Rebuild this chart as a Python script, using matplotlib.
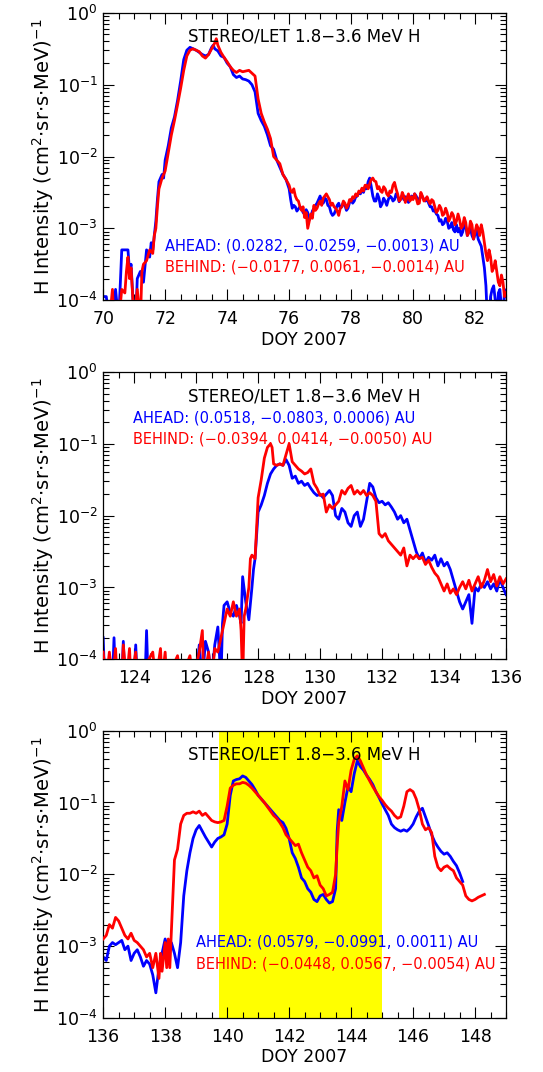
import matplotlib.pyplot as plt
import numpy as np
from matplotlib.ticker import LogLocator, MultipleLocator, NullFormatter

# ---- data: log10 of H intensity ----
# panel 1, DOY 70-83 (rise and peak)
p1_day_a = [70.0, 70.1, 70.2, 70.3, 70.4, 70.5, 70.6, 70.7, 70.8, 70.85, 70.9, 71.0, 71.05, 71.1, 71.2, 71.3,
            71.4, 71.5, 71.55, 71.6, 71.65, 71.7, 71.75, 71.8, 71.85, 71.9, 71.95, 72.0, 72.1, 72.2, 72.3, 72.4,
            72.5, 72.6, 72.7, 72.8, 72.9, 73.0, 73.1, 73.2, 73.3, 73.4, 73.5, 73.55, 73.6, 73.7, 73.8, 73.9,
            74.0, 74.1, 74.2, 74.3, 74.4, 74.5, 74.6, 74.7, 74.8, 74.9, 75.0, 75.1, 75.2, 75.3, 75.4, 75.5,
            75.6, 75.7, 75.8, 75.9]
p1_log_a = [-3.95, -3.95, -4.3, -4.3, -3.85, -4.3, -3.3, -3.3, -3.3, -3.6, -3.5, -4.3, -4.3, -3.7, -3.6, -3.75,
            -3.3, -3.4, -3.2, -3.3, -3.1, -2.9, -2.6, -2.35, -2.3, -2.25, -2.3, -2.05, -1.85, -1.6, -1.45, -1.22,
            -0.95, -0.65, -0.52, -0.48, -0.5, -0.52, -0.55, -0.58, -0.6, -0.58, -0.48, -0.45, -0.5, -0.53, -0.6, -0.62,
            -0.7, -0.75, -0.86, -0.9, -0.88, -0.92, -0.93, -0.95, -1.0, -1.1, -1.4, -1.5, -1.58, -1.7, -1.85, -1.9,
            -2.05, -2.15, -2.25, -2.32]
p1_day_b = [70.0, 70.2, 70.3, 70.35, 70.5, 70.6, 70.7, 70.75, 70.8, 70.85, 70.9, 71.0, 71.1, 71.2, 71.25, 71.3,
            71.4, 71.5, 71.6, 71.65, 71.7, 71.75, 71.8, 71.9, 72.0, 72.1, 72.2, 72.3, 72.4, 72.5, 72.6, 72.7,
            72.8, 72.9, 73.0, 73.1, 73.2, 73.3, 73.4, 73.5, 73.6, 73.65, 73.7, 73.8, 73.9, 74.0, 74.1, 74.2,
            74.3, 74.4, 74.5, 74.6, 74.7, 74.8, 74.9, 75.0, 75.1, 75.2, 75.3, 75.4, 75.5, 75.6, 75.7, 75.8,
            75.9]
p1_log_b = [-4.3, -4.3, -3.85, -4.3, -4.3, -3.85, -3.9, -3.6, -3.4, -3.7, -3.55, -4.3, -3.85, -4.3, -3.6, -3.5,
            -3.45, -3.3, -3.35, -3.1, -3.0, -2.7, -2.45, -2.3, -2.2, -1.95, -1.7, -1.5, -1.28, -1.05, -0.8, -0.6,
            -0.52, -0.5, -0.52, -0.54, -0.6, -0.63, -0.58, -0.5, -0.42, -0.36, -0.45, -0.55, -0.62, -0.68, -0.75, -0.8,
            -0.83, -0.8, -0.82, -0.81, -0.8, -0.84, -0.88, -1.2, -1.4, -1.52, -1.62, -1.75, -2.0, -2.05, -2.1, -2.25,
            -2.32]
# panel 1 noisy tail, DOY 76.00-83.00 in 0.05 day steps (141 samples)
p1_tail_day = [round(76.0 + 0.05 * k, 2) for k in range(141)]
p1_tail_a = [-2.45, -2.6, -2.72, -2.68, -2.7, -2.76, -2.73, -2.7, -2.72, -2.78, -2.8, -2.74, -2.78, -2.88, -2.85,
             -2.76, -2.72, -2.68, -2.65, -2.6, -2.55, -2.62, -2.65, -2.58, -2.6, -2.68, -2.7, -2.78, -2.82, -2.8,
             -2.75, -2.68, -2.65, -2.72, -2.7, -2.64, -2.68, -2.75, -2.72, -2.64, -2.6, -2.65, -2.62, -2.56, -2.55,
             -2.5, -2.52, -2.46, -2.5, -2.42, -2.45, -2.35, -2.3, -2.42, -2.55, -2.62, -2.62, -2.52, -2.58, -2.7,
             -2.66, -2.58, -2.62, -2.68, -2.6, -2.55, -2.57, -2.62, -2.6, -2.52, -2.55, -2.63, -2.58, -2.54, -2.6,
             -2.56, -2.57, -2.64, -2.6, -2.55, -2.58, -2.52, -2.55, -2.6, -2.6, -2.54, -2.56, -2.6, -2.62, -2.58,
             -2.65, -2.7, -2.7, -2.76, -2.75, -2.8, -2.82, -2.9, -2.88, -2.95, -2.93, -2.86, -2.9, -3.0, -2.98,
             -2.92, -3.02, -3.05, -2.95, -3.05, -3.0, -3.1, -3.05, -2.95, -2.98, -3.1, -3.05, -3.0, -3.1, -3.15,
             -3.08, -3.02, -3.15, -3.2, -3.25, -3.4, -3.55, -3.8, -4.3, -4.3, -3.95, -3.85, -3.8, -4.0, -4.3,
             -3.9, -3.85, -4.1, -4.3, -3.85, -3.95]
p1_tail_b = [-2.4, -2.48, -2.5, -2.45, -2.55, -2.6, -2.62, -2.7, -2.75, -2.7, -2.85, -2.78, -3.0, -2.9, -2.8,
             -2.86, -2.68, -2.75, -2.72, -2.66, -2.62, -2.68, -2.58, -2.55, -2.52, -2.56, -2.6, -2.68, -2.65, -2.7,
             -2.72, -2.76, -2.82, -2.72, -2.7, -2.62, -2.65, -2.72, -2.68, -2.6, -2.62, -2.56, -2.58, -2.52, -2.55,
             -2.48, -2.5, -2.44, -2.48, -2.4, -2.4, -2.45, -2.38, -2.32, -2.3, -2.34, -2.35, -2.45, -2.42, -2.48,
             -2.5, -2.42, -2.45, -2.52, -2.55, -2.48, -2.5, -2.4, -2.36, -2.45, -2.52, -2.62, -2.6, -2.5, -2.55,
             -2.64, -2.58, -2.52, -2.62, -2.56, -2.6, -2.52, -2.58, -2.66, -2.65, -2.5, -2.55, -2.62, -2.6, -2.56,
             -2.62, -2.66, -2.6, -2.62, -2.7, -2.78, -2.75, -2.68, -2.72, -2.82, -2.8, -2.72, -2.78, -2.9, -2.85,
             -2.78, -2.82, -2.95, -2.9, -2.8, -2.88, -3.0, -2.97, -2.85, -2.92, -3.1, -3.05, -2.9, -2.95, -3.15,
             -3.05, -2.95, -3.0, -3.1, -2.95, -3.05, -3.2, -3.35, -3.45, -3.3, -3.4, -3.6, -3.55, -3.45, -3.6,
             -3.75, -3.8, -3.65, -3.75, -3.95, -3.9]

# panel 2, DOY 123-136
p2_day_a = [123.0, 123.05, 123.3, 123.35, 123.4, 123.6, 123.65, 123.7, 124.0, 124.05, 124.1, 124.35, 124.4, 124.45,
            126.0, 126.1, 126.2, 126.3, 126.4, 126.5, 126.6, 126.7, 126.8, 126.85, 126.9, 127.0, 127.1, 127.2,
            127.3, 127.4, 127.45, 127.5, 127.6, 127.7, 127.8, 127.85, 127.9, 128.0, 128.1, 128.2, 128.3, 128.4,
            128.5, 128.6, 128.7, 128.8, 128.9, 129.0, 129.1, 129.2, 129.3, 129.4, 129.5, 129.6, 129.7, 129.8,
            129.9, 130.0, 130.1, 130.2, 130.3, 130.4, 130.5, 130.6, 130.7, 130.8, 130.9, 131.0, 131.1, 131.2,
            131.3, 131.4, 131.5, 131.6, 131.7, 131.8, 131.9, 132.0, 132.1, 132.2, 132.3, 132.4, 132.5, 132.6,
            132.7, 132.8, 132.9, 133.0, 133.1, 133.2, 133.3, 133.4, 133.5, 133.6, 133.7, 133.8, 133.9, 134.0,
            134.1, 134.2, 134.3, 134.4, 134.5, 134.6, 134.7, 134.8, 134.9, 135.0, 135.1, 135.2, 135.3, 135.4,
            135.5, 135.6, 135.7, 135.8, 135.9, 136.0]
p2_log_a = [-3.7, -4.3, -4.3, -3.7, -4.3, -4.3, -3.75, -4.3, -4.3, -3.8, -4.3, -4.3, -3.6, -4.3,
            -4.3, -3.8, -4.3, -3.75, -3.9, -4.3, -3.8, -3.55, -4.3, -3.5, -3.25, -3.2, -3.35, -3.4,
            -3.25, -3.4, -3.5, -2.85, -3.2, -3.45, -3.0, -2.75, -2.6, -1.95, -1.85, -1.72, -1.55, -1.42,
            -1.35, -1.3, -1.28, -1.3, -1.22, -1.3, -1.48, -1.45, -1.55, -1.52, -1.58, -1.55, -1.62, -1.68,
            -1.72, -1.7, -1.75, -1.7, -1.65, -1.72, -2.0, -2.05, -1.9, -1.95, -2.1, -2.15, -2.0, -1.95,
            -2.15, -2.05, -1.8, -1.55, -1.6, -1.75, -1.82, -1.8, -1.85, -1.82, -1.88, -1.95, -2.05, -2.0,
            -2.1, -2.05, -2.2, -2.35, -2.5, -2.6, -2.52, -2.65, -2.58, -2.62, -2.55, -2.7, -2.6, -2.7,
            -2.65, -2.75, -2.9, -3.05, -3.2, -3.3, -3.2, -3.1, -3.5, -3.0, -3.05, -2.95, -3.0, -2.92,
            -3.02, -2.95, -3.05, -2.88, -3.0, -3.1]
p2_day_b = [123.0, 123.1, 123.2, 123.3, 123.4, 123.45, 123.6, 123.65, 123.75, 123.85, 123.9, 124.05, 124.1, 124.6,
            124.7, 124.85, 124.9, 125.0, 125.05, 125.4, 125.5, 125.8, 125.9, 126.1, 126.2, 126.25, 126.4, 126.5,
            126.6, 126.7, 126.8, 126.9, 127.0, 127.1, 127.2, 127.3, 127.4, 127.45, 127.5, 127.55, 127.6, 127.7,
            127.75, 127.8, 127.9, 128.0, 128.1, 128.2, 128.3, 128.4, 128.45, 128.5, 128.6, 128.7, 128.8, 128.9,
            129.0, 129.1, 129.2, 129.3, 129.4, 129.5, 129.6, 129.7, 129.8, 129.9, 130.0, 130.1, 130.2, 130.3,
            130.4, 130.5, 130.6, 130.7, 130.8, 130.9, 131.0, 131.1, 131.2, 131.3, 131.4, 131.5, 131.6, 131.7,
            131.8, 131.9, 132.0, 132.1, 132.2, 132.3, 132.4, 132.5, 132.6, 132.7, 132.8, 132.9, 133.0, 133.1,
            133.2, 133.3, 133.4, 133.5, 133.6, 133.7, 133.8, 133.9, 134.0, 134.1, 134.2, 134.3, 134.4, 134.5,
            134.6, 134.7, 134.8, 134.9, 135.0, 135.1, 135.2, 135.3, 135.4, 135.5, 135.6, 135.7, 135.8, 135.9,
            136.0]
p2_log_b = [-3.9, -4.3, -3.9, -4.3, -3.85, -4.3, -4.3, -3.8, -4.3, -3.85, -4.3, -3.9, -4.3, -3.9,
            -4.3, -3.85, -4.3, -3.9, -4.3, -3.95, -4.3, -3.95, -4.3, -3.9, -3.6, -4.3, -3.9, -4.3,
            -3.85, -3.9, -3.7, -3.5, -3.3, -3.4, -3.2, -3.4, -3.3, -3.6, -4.3, -3.4, -3.3, -3.0,
            -2.6, -2.55, -2.6, -1.75, -1.5, -1.2, -1.05, -1.0, -1.05, -1.28, -1.3, -1.28, -1.3, -1.15,
            -1.0, -1.25, -1.3, -1.35, -1.38, -1.42, -1.4, -1.35, -1.55, -1.62, -1.72, -1.7, -1.95, -1.85,
            -1.9, -1.85, -1.8, -1.65, -1.7, -1.62, -1.58, -1.7, -1.65, -1.7, -1.65, -1.72, -1.68, -1.72,
            -1.8, -2.25, -2.3, -2.25, -2.35, -2.4, -2.45, -2.5, -2.55, -2.45, -2.7, -2.55, -2.6, -2.55,
            -2.6, -2.58, -2.68, -2.62, -2.72, -2.8, -2.85, -2.95, -3.05, -2.95, -3.08, -3.02, -3.1, -3.0,
            -2.92, -3.02, -2.9, -3.05, -2.95, -2.85, -3.0, -2.9, -2.75, -2.92, -2.82, -2.98, -2.85, -2.95,
            -2.88]

# panel 3, DOY 136-149
p3_day_a = [136.0, 136.1, 136.2, 136.3, 136.4, 136.5, 136.6, 136.7, 136.8, 136.9, 137.0, 137.1, 137.2, 137.3,
            137.4, 137.5, 137.6, 137.7, 137.8, 137.9, 138.0, 138.1, 138.2, 138.3, 138.4, 138.5, 138.6, 138.7,
            138.8, 138.9, 139.0, 139.1, 139.2, 139.3, 139.4, 139.5, 139.6, 139.7, 139.8, 139.9, 140.0, 140.1,
            140.2, 140.3, 140.4, 140.5, 140.6, 140.7, 140.8, 140.9, 141.0, 141.1, 141.2, 141.3, 141.4, 141.5,
            141.6, 141.7, 141.8, 141.9, 142.0, 142.1, 142.2, 142.3, 142.4, 142.5, 142.6, 142.7, 142.8, 142.9,
            143.0, 143.1, 143.2, 143.3, 143.4, 143.5, 143.55, 143.6, 143.7, 143.8, 143.9, 144.0, 144.1, 144.2,
            144.3, 144.4, 144.5, 144.6, 144.7, 144.8, 144.9, 145.0, 145.1, 145.2, 145.3, 145.4, 145.5, 145.6,
            145.7, 145.8, 145.9, 146.0, 146.1, 146.2, 146.3, 146.4, 146.5, 146.6, 146.7, 146.8, 146.9, 147.0,
            147.1, 147.2, 147.3, 147.4, 147.5, 147.6]
p3_log_a = [-3.15, -3.2, -3.0, -2.95, -2.98, -2.95, -2.92, -3.05, -3.0, -3.2, -3.1, -3.05, -3.15, -3.28,
            -3.2, -3.25, -3.4, -3.65, -3.3, -3.1, -2.9, -3.05, -2.95, -3.1, -3.3, -2.95, -2.3, -1.95,
            -1.7, -1.5, -1.38, -1.32, -1.4, -1.48, -1.55, -1.62, -1.55, -1.5, -1.48, -1.45, -1.3, -0.9,
            -0.7, -0.68, -0.67, -0.63, -0.65, -0.7, -0.75, -0.82, -0.9, -0.95, -1.0, -1.05, -1.1, -1.15,
            -1.2, -1.25, -1.28, -1.36, -1.5, -1.7, -1.78, -1.9, -2.05, -2.1, -2.2, -2.25, -2.35, -2.38,
            -2.3, -2.28, -2.35, -2.4, -2.38, -2.2, -1.4, -1.1, -1.25, -1.0, -0.78, -0.85, -0.6, -0.42,
            -0.5, -0.55, -0.62, -0.68, -0.75, -0.85, -0.93, -1.02, -1.1, -1.18, -1.3, -1.35, -1.38, -1.4,
            -1.38, -1.4, -1.36, -1.3, -1.2, -1.12, -1.08, -1.2, -1.32, -1.45, -1.55, -1.62, -1.68, -1.72,
            -1.7, -1.75, -1.82, -1.88, -1.98, -2.1]
p3_day_b = [136.0, 136.1, 136.2, 136.3, 136.4, 136.5, 136.6, 136.7, 136.8, 136.9, 137.0, 137.1, 137.2, 137.3,
            137.4, 137.5, 137.6, 137.7, 137.8, 137.85, 137.9, 138.0, 138.05, 138.1, 138.15, 138.2, 138.3, 138.4,
            138.5, 138.6, 138.7, 138.8, 138.9, 139.0, 139.1, 139.2, 139.3, 139.4, 139.5, 139.6, 139.7, 139.8,
            139.9, 140.0, 140.1, 140.2, 140.3, 140.4, 140.5, 140.6, 140.7, 140.8, 140.9, 141.0, 141.1, 141.2,
            141.3, 141.4, 141.5, 141.6, 141.7, 141.8, 141.9, 142.0, 142.1, 142.2, 142.3, 142.4, 142.5, 142.6,
            142.7, 142.8, 142.9, 143.0, 143.1, 143.2, 143.3, 143.4, 143.5, 143.55, 143.6, 143.7, 143.8, 143.9,
            144.0, 144.1, 144.2, 144.3, 144.4, 144.5, 144.6, 144.7, 144.8, 144.9, 145.0, 145.1, 145.2, 145.3,
            145.4, 145.5, 145.6, 145.7, 145.8, 145.9, 146.0, 146.1, 146.2, 146.3, 146.4, 146.5, 146.6, 146.7,
            146.8, 146.9, 147.0, 147.1, 147.2, 147.3, 147.4, 147.5, 147.6, 147.7, 147.8, 147.9, 148.0, 148.1,
            148.2, 148.3]
p3_log_b = [-2.9, -2.85, -2.7, -2.75, -2.6, -2.65, -2.75, -2.85, -2.9, -2.82, -2.92, -2.95, -3.0, -3.05,
            -3.15, -3.1, -3.3, -3.1, -3.45, -3.1, -3.35, -2.95, -3.3, -2.9, -3.3, -2.8, -1.8, -1.65,
            -1.3, -1.18, -1.15, -1.15, -1.13, -1.15, -1.12, -1.18, -1.15, -1.2, -1.25, -1.27, -1.28, -1.27,
            -1.25, -1.05, -0.8, -0.76, -0.74, -0.74, -0.72, -0.73, -0.76, -0.8, -0.85, -0.9, -0.95, -1.0,
            -1.06, -1.12, -1.18, -1.22, -1.28, -1.35, -1.45, -1.5, -1.55, -1.6, -1.58, -1.7, -1.8, -1.9,
            -1.95, -2.05, -2.02, -2.15, -2.2, -2.3, -2.28, -2.25, -2.0, -1.6, -1.28, -1.05, -0.7, -0.82,
            -0.55, -0.4, -0.35, -0.42, -0.52, -0.62, -0.7, -0.78, -0.85, -0.92, -0.97, -1.03, -1.08, -1.12,
            -1.18, -1.22, -1.2, -1.05, -0.85, -0.82, -0.85, -0.95, -1.1, -1.3, -1.38, -1.35, -1.42, -1.75,
            -1.9, -1.95, -1.9, -1.88, -1.92, -1.95, -2.05, -2.1, -2.15, -2.3, -2.35, -2.37, -2.35, -2.32,
            -2.3, -2.28]

day_ranges = [(70, 83), (123, 136), (136, 149)]
shade_span = (139.75, 145.0)

ahead_text = ['AHEAD: (0.0282, \u22120.0259, \u22120.0013) AU',
              'AHEAD: (0.0518, \u22120.0803, 0.0006) AU',
              'AHEAD: (0.0579, \u22120.0991, 0.0011) AU']
behind_text = ['BEHIND: (\u22120.0177, 0.0061, \u22120.0014) AU',
               'BEHIND: (\u22120.0394, 0.0414, \u22120.0050) AU',
               'BEHIND: (\u22120.0448, 0.0567, \u22120.0054) AU']
# where the two position lines go (axes fraction)
label_pos = [(0.154, 0.188, 0.115), (0.074, 0.840, 0.767), (0.231, 0.265, 0.188)]

panels = [(p1_day_a + p1_tail_day, p1_log_a + p1_tail_a, p1_day_b + p1_tail_day, p1_log_b + p1_tail_b),
          (p2_day_a, p2_log_a, p2_day_b, p2_log_b),
          (p3_day_a, p3_log_a, p3_day_b, p3_log_b)]

fig = plt.figure(figsize=(5.43, 10.72), dpi=100)
ax_bottoms = [0.720, 0.385, 0.0504]

for i, (da, la, db, lb) in enumerate(panels):
    ax = fig.add_axes([0.19, ax_bottoms[i], 0.742, 0.268])
    if i == 2:
        ax.axvspan(shade_span[0], shade_span[1], color='#ffff00', zorder=0, lw=0)
    ax.plot(da, 10.0 ** np.array(la), color='#0000ff', lw=2.0, zorder=2)
    ax.plot(db, 10.0 ** np.array(lb), color='#ff0000', lw=2.0, zorder=3)

    ax.set_yscale('log')
    ax.set_ylim(1e-4, 1)
    ax.set_xlim(*day_ranges[i])
    ax.xaxis.set_major_locator(MultipleLocator(2))
    ax.xaxis.set_minor_locator(MultipleLocator(0.5))
    ax.yaxis.set_major_locator(LogLocator(base=10, numticks=10))
    ax.yaxis.set_minor_locator(LogLocator(base=10, subs=np.arange(2, 10), numticks=10))
    ax.yaxis.set_minor_formatter(NullFormatter())
    ax.tick_params(which='both', direction='in', top=True, right=True, labelsize=12.5)
    ax.tick_params(which='major', length=8, width=0.8)
    ax.tick_params(which='minor', length=4, width=0.8)
    ax.tick_params(axis='x', pad=7)
    ax.tick_params(axis='y', pad=4)
    for sp in ax.spines.values():
        sp.set_linewidth(0.9)

    ax.set_xlabel('DOY 2007', fontsize=12.5, labelpad=2)
    ax.set_ylabel(r'H Intensity (cm$^2$$\cdot$sr$\cdot$s$\cdot$MeV)$^{-1}$', fontsize=14, labelpad=0)

    ax.text(0.5, 0.916, 'STEREO/LET 1.8\u22123.6 MeV H', transform=ax.transAxes,
            ha='center', va='center', fontsize=12, zorder=5)
    x0, ya, yb = label_pos[i]
    ax.text(x0, ya, ahead_text[i], transform=ax.transAxes, ha='left', va='center',
            fontsize=10.5, color='#0000ff', zorder=5)
    ax.text(x0, yb, behind_text[i], transform=ax.transAxes, ha='left', va='center',
            fontsize=10.5, color='#ff0000', zorder=5)

fig.savefig('out.png', dpi=100)
